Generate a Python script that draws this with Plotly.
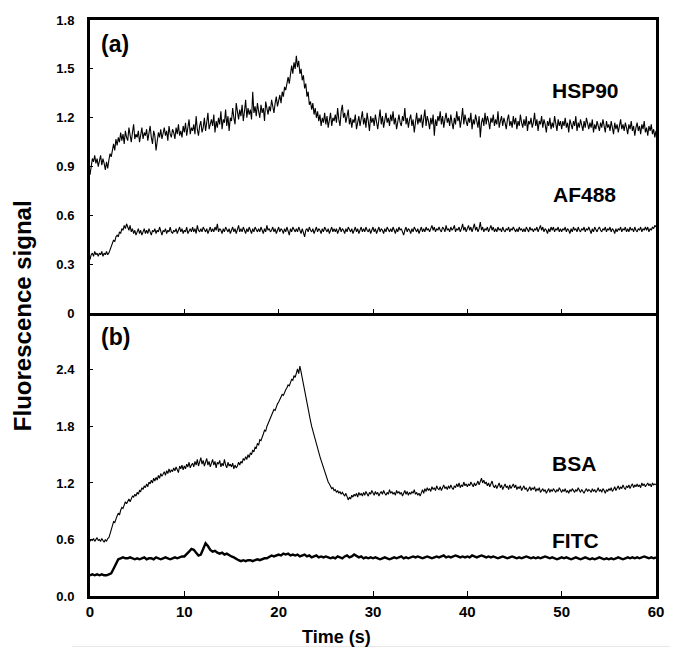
import plotly.graph_objects as go

# noisy traces sampled every 0.125 s (0..60 s), FITC every 0.25 s
FINE_STEP = 0.125
COARSE_STEP = 0.25

hsp90 = [
    0.85, 0.90, 0.95, 0.93, 0.97, 0.92, 0.95, 0.90,
    0.94, 0.97, 0.91, 0.95, 0.92, 0.88, 0.93, 0.89,
    0.94, 0.98, 0.96, 1.01, 1.04, 1.00, 1.07, 1.03,
    1.08, 1.05, 1.11, 1.06, 1.10, 1.04, 1.12, 1.08,
    1.06, 1.14, 1.09, 1.05, 1.11, 1.16, 1.07, 1.10,
    1.08, 1.12, 1.05, 1.10, 1.14, 1.07, 1.11, 1.09,
    1.13, 1.06, 1.10, 1.15, 1.08, 1.04, 1.12, 1.09,
    1.00, 1.06, 1.11, 1.08, 1.13, 1.07, 1.10, 1.14,
    1.09, 1.12, 1.06, 1.15, 1.10, 1.08, 1.13, 1.11,
    1.07, 1.14, 1.10, 1.16, 1.09, 1.12, 1.08, 1.15,
    1.11, 1.17, 1.09, 1.13, 1.19, 1.10, 1.14, 1.12,
    1.16, 1.10, 1.21, 1.13, 1.09, 1.15, 1.18, 1.11,
    1.14, 1.20, 1.12, 1.17, 1.23, 1.13, 1.16, 1.19,
    1.15, 1.22, 1.11, 1.18, 1.14, 1.20, 1.16, 1.24,
    1.13, 1.19, 1.17, 1.25, 1.15, 1.21, 1.12, 1.20,
    1.18, 1.26, 1.20, 1.16, 1.29, 1.22, 1.19, 1.25,
    1.21, 1.28, 1.18, 1.24, 1.31, 1.20, 1.26, 1.22,
    1.25, 1.19, 1.36, 1.23, 1.27, 1.21, 1.29, 1.24,
    1.20, 1.28, 1.23, 1.26, 1.18, 1.30, 1.25, 1.22,
    1.27, 1.24, 1.31, 1.26, 1.23, 1.29, 1.33, 1.27,
    1.30, 1.34, 1.29, 1.36, 1.33, 1.39, 1.37, 1.42,
    1.45, 1.41, 1.48, 1.52, 1.47, 1.54, 1.50, 1.58,
    1.51, 1.55, 1.47, 1.50, 1.43, 1.46, 1.38, 1.41,
    1.33, 1.36, 1.28, 1.30, 1.25, 1.29, 1.22, 1.26,
    1.20, 1.24, 1.18, 1.22, 1.15, 1.20, 1.17, 1.23,
    1.16, 1.21, 1.14, 1.19, 1.23, 1.15, 1.20, 1.18,
    1.22, 1.17, 1.26, 1.19, 1.15, 1.24, 1.28, 1.20,
    1.23, 1.17, 1.21, 1.25, 1.16, 1.20, 1.14, 1.19,
    1.17, 1.22, 1.13, 1.18, 1.21, 1.15, 1.19, 1.24,
    1.16, 1.20, 1.14, 1.23, 1.18, 1.12, 1.21, 1.17,
    1.20, 1.15, 1.22, 1.18, 1.13, 1.19, 1.25, 1.16,
    1.21, 1.14, 1.18, 1.23, 1.17, 1.20, 1.15, 1.22,
    1.18, 1.24, 1.16, 1.20, 1.13, 1.19, 1.22, 1.17,
    1.15, 1.21, 1.18, 1.26, 1.16, 1.20, 1.14, 1.19,
    1.22, 1.15, 1.19, 1.11, 1.18, 1.23, 1.16, 1.20,
    1.17, 1.22, 1.14, 1.19, 1.25, 1.15, 1.21, 1.18,
    1.13, 1.20, 1.16, 1.22, 1.09, 1.19, 1.15, 1.21,
    1.18, 1.24, 1.16, 1.21, 1.14, 1.19, 1.23, 1.17,
    1.20, 1.15, 1.22, 1.17, 1.13, 1.20, 1.16, 1.24,
    1.18, 1.21, 1.14, 1.19, 1.26, 1.16, 1.22, 1.18,
    1.15, 1.20, 1.17, 1.23, 1.13, 1.19, 1.16, 1.22,
    1.18, 1.14, 1.21, 1.08, 1.17, 1.20, 1.15, 1.23,
    1.16, 1.21, 1.18, 1.13, 1.20, 1.17, 1.22, 1.15,
    1.19, 1.16, 1.24, 1.14, 1.18, 1.21, 1.15, 1.20,
    1.17, 1.13, 1.19, 1.22, 1.15, 1.18, 1.14, 1.21,
    1.16, 1.20, 1.13, 1.18, 1.15, 1.22, 1.17, 1.14,
    1.19, 1.15, 1.21, 1.12, 1.18, 1.16, 1.20, 1.14,
    1.17, 1.23, 1.15, 1.19, 1.12, 1.18, 1.16, 1.21,
    1.14, 1.19, 1.16, 1.11, 1.18, 1.15, 1.20, 1.13,
    1.17, 1.14, 1.21, 1.16, 1.12, 1.19, 1.15, 1.18,
    1.13, 1.18, 1.15, 1.20, 1.14, 1.17, 1.11, 1.19,
    1.16, 1.13, 1.18, 1.15, 1.21, 1.12, 1.17, 1.14,
    1.19, 1.15, 1.12, 1.18, 1.14, 1.20, 1.16, 1.13,
    1.17, 1.14, 1.19, 1.11, 1.16, 1.13, 1.18, 1.15,
    1.12, 1.17, 1.14, 1.19, 1.15, 1.11, 1.18, 1.14,
    1.16, 1.12, 1.18, 1.14, 1.10, 1.17, 1.13, 1.16,
    1.11, 1.15, 1.19, 1.13, 1.16, 1.12, 1.17, 1.14,
    1.10, 1.16, 1.13, 1.18, 1.12, 1.15, 1.09, 1.14,
    1.17, 1.12, 1.15, 1.10, 1.16, 1.13, 1.18, 1.11,
    1.14, 1.09, 1.15, 1.12, 1.16, 1.10, 1.13, 1.08,
    1.12,
]

af488 = [
    0.33, 0.36, 0.37, 0.35, 0.38, 0.36, 0.37, 0.35,
    0.37, 0.36, 0.38, 0.35, 0.37, 0.36, 0.38, 0.36,
    0.37, 0.39, 0.41, 0.43, 0.45, 0.44, 0.47, 0.48,
    0.47, 0.50, 0.49, 0.52, 0.51, 0.54, 0.52, 0.55,
    0.53, 0.51, 0.54, 0.50, 0.52, 0.49, 0.51, 0.48,
    0.50, 0.52, 0.49, 0.51, 0.48, 0.50, 0.52, 0.49,
    0.51, 0.49, 0.52, 0.50, 0.48, 0.51, 0.50, 0.52,
    0.49, 0.51, 0.50, 0.53, 0.50, 0.48, 0.51, 0.50,
    0.52, 0.49, 0.51, 0.50, 0.53, 0.50, 0.49, 0.51,
    0.50, 0.52, 0.49, 0.51, 0.53, 0.50, 0.52, 0.49,
    0.51, 0.50, 0.53, 0.49, 0.51, 0.52, 0.50, 0.53,
    0.50, 0.52, 0.49, 0.54, 0.51, 0.50, 0.52, 0.50,
    0.53, 0.51, 0.50, 0.52, 0.49, 0.51, 0.53, 0.50,
    0.52, 0.50, 0.53, 0.51, 0.55, 0.50, 0.52, 0.51,
    0.49, 0.52, 0.50, 0.53, 0.51, 0.50, 0.52, 0.49,
    0.51, 0.53, 0.50, 0.52, 0.49, 0.51, 0.54, 0.50,
    0.52, 0.50, 0.53, 0.51, 0.49, 0.52, 0.50, 0.53,
    0.51, 0.49, 0.52, 0.50, 0.53, 0.51, 0.50, 0.52,
    0.50, 0.53, 0.51, 0.49, 0.52, 0.50, 0.54, 0.51,
    0.52, 0.50, 0.51, 0.53, 0.50, 0.52, 0.49, 0.51,
    0.53, 0.50, 0.52, 0.51, 0.49, 0.52, 0.50, 0.53,
    0.51, 0.48, 0.52, 0.50, 0.53, 0.51, 0.50, 0.52,
    0.50, 0.53, 0.51, 0.49, 0.52, 0.50, 0.47, 0.51,
    0.52, 0.50, 0.53, 0.51, 0.50, 0.52, 0.49, 0.51,
    0.53, 0.50, 0.52, 0.51, 0.49, 0.52, 0.50, 0.53,
    0.51, 0.50, 0.52, 0.49, 0.51, 0.53, 0.50, 0.52,
    0.50, 0.52, 0.49, 0.51, 0.53, 0.50, 0.52, 0.51,
    0.49, 0.52, 0.50, 0.53, 0.51, 0.50, 0.52, 0.49,
    0.51, 0.53, 0.50, 0.52, 0.49, 0.51, 0.53, 0.50,
    0.52, 0.50, 0.53, 0.51, 0.50, 0.52, 0.49, 0.51,
    0.53, 0.50, 0.52, 0.49, 0.51, 0.53, 0.50, 0.52,
    0.51, 0.49, 0.52, 0.50, 0.53, 0.51, 0.50, 0.52,
    0.50, 0.53, 0.51, 0.49, 0.52, 0.50, 0.53, 0.51,
    0.52, 0.50, 0.48, 0.51, 0.53, 0.50, 0.52, 0.51,
    0.49, 0.52, 0.50, 0.53, 0.51, 0.50, 0.52, 0.49,
    0.51, 0.53, 0.50, 0.52, 0.50, 0.53, 0.51, 0.52,
    0.50, 0.52, 0.54, 0.51, 0.53, 0.50, 0.52, 0.51,
    0.53, 0.51, 0.50, 0.53, 0.52, 0.50, 0.54, 0.51,
    0.52, 0.50, 0.53, 0.51, 0.52, 0.54, 0.50, 0.52,
    0.51, 0.53, 0.50, 0.52, 0.55, 0.51, 0.53, 0.50,
    0.52, 0.54, 0.51, 0.53, 0.50, 0.52, 0.55, 0.51,
    0.53, 0.50, 0.52, 0.56, 0.51, 0.53, 0.50, 0.52,
    0.51, 0.53, 0.50, 0.52, 0.54, 0.51, 0.53, 0.50,
    0.52, 0.50, 0.53, 0.51, 0.52, 0.50, 0.53, 0.51,
    0.50, 0.52, 0.51, 0.53, 0.50, 0.52, 0.51, 0.53,
    0.51, 0.50, 0.52, 0.50, 0.53, 0.51, 0.52, 0.50,
    0.52, 0.50, 0.53, 0.51, 0.50, 0.53, 0.51, 0.52,
    0.50, 0.52, 0.51, 0.53, 0.50, 0.52, 0.54, 0.51,
    0.53, 0.50, 0.52, 0.51, 0.49, 0.52, 0.50, 0.53,
    0.51, 0.53, 0.50, 0.52, 0.51, 0.53, 0.50, 0.52,
    0.50, 0.52, 0.51, 0.53, 0.50, 0.52, 0.51, 0.49,
    0.52, 0.50, 0.53, 0.51, 0.52, 0.50, 0.53, 0.51,
    0.50, 0.52, 0.51, 0.53, 0.50, 0.52, 0.51, 0.53,
    0.51, 0.49, 0.52, 0.50, 0.53, 0.51, 0.50, 0.52,
    0.53, 0.51, 0.50, 0.52, 0.51, 0.53, 0.50, 0.52,
    0.51, 0.53, 0.50, 0.52, 0.51, 0.49, 0.52, 0.50,
    0.52, 0.51, 0.53, 0.50, 0.52, 0.51, 0.53, 0.50,
    0.52, 0.50, 0.53, 0.51, 0.52, 0.50, 0.53, 0.51,
    0.50, 0.52, 0.51, 0.53, 0.50, 0.52, 0.51, 0.53,
    0.51, 0.53, 0.50, 0.52, 0.51, 0.53, 0.52, 0.54,
    0.53,
]

bsa = [
    0.58, 0.60, 0.59, 0.61, 0.58, 0.60, 0.62, 0.59,
    0.60, 0.58, 0.61, 0.59, 0.57, 0.60, 0.58, 0.61,
    0.62, 0.66, 0.70, 0.75, 0.79, 0.78, 0.83, 0.85,
    0.88, 0.86, 0.91, 0.94, 0.93, 0.97, 1.00, 0.98,
    1.01, 1.03, 1.00, 1.04, 1.06, 1.05, 1.08, 1.06,
    1.10, 1.08, 1.12, 1.11, 1.15, 1.13, 1.17, 1.15,
    1.19, 1.16, 1.21, 1.19, 1.23, 1.20, 1.25, 1.22,
    1.26, 1.23, 1.28, 1.25, 1.30, 1.27, 1.29, 1.32,
    1.28, 1.33, 1.30, 1.35, 1.31, 1.34, 1.32, 1.36,
    1.33, 1.37, 1.34, 1.31, 1.38, 1.35, 1.39, 1.34,
    1.38, 1.35, 1.40, 1.37, 1.42, 1.36, 1.39, 1.41,
    1.37, 1.43, 1.39, 1.45, 1.38, 1.42, 1.47, 1.40,
    1.44, 1.38, 1.42, 1.46, 1.39, 1.43, 1.37, 1.41,
    1.45, 1.39, 1.43, 1.36, 1.42, 1.40, 1.44, 1.37,
    1.41, 1.38, 1.45, 1.39, 1.36, 1.42, 1.38, 1.40,
    1.37, 1.41, 1.35, 1.39, 1.36, 1.38, 1.42, 1.39,
    1.43, 1.41, 1.46, 1.44, 1.48, 1.45, 1.50, 1.47,
    1.52, 1.50, 1.55, 1.53, 1.58, 1.57, 1.62, 1.60,
    1.66, 1.65, 1.70, 1.72, 1.76, 1.75, 1.80, 1.83,
    1.86, 1.89, 1.92, 1.94, 1.98, 1.97, 2.01, 2.04,
    2.06, 2.09, 2.11, 2.14, 2.13, 2.17, 2.19, 2.21,
    2.24, 2.23, 2.28, 2.30, 2.29, 2.34, 2.32, 2.37,
    2.41, 2.36, 2.44, 2.38, 2.31, 2.25, 2.20, 2.14,
    2.07, 2.00, 1.93, 1.86, 1.80, 1.75, 1.70, 1.66,
    1.62, 1.57, 1.52, 1.48, 1.44, 1.40, 1.36, 1.31,
    1.27, 1.24, 1.21, 1.19, 1.16, 1.14, 1.15, 1.12,
    1.13, 1.10, 1.12, 1.09, 1.11, 1.08, 1.10, 1.07,
    1.06, 1.09, 1.04, 1.02, 1.05, 1.03, 1.07, 1.05,
    1.08, 1.06, 1.09, 1.05, 1.10, 1.07, 1.09, 1.06,
    1.10, 1.07, 1.11, 1.08, 1.06, 1.10, 1.08, 1.12,
    1.09, 1.07, 1.11, 1.08, 1.10, 1.06, 1.09, 1.11,
    1.08, 1.12, 1.09, 1.07, 1.10, 1.08, 1.13, 1.09,
    1.11, 1.08, 1.10, 1.07, 1.12, 1.09, 1.11, 1.08,
    1.10, 1.06, 1.09, 1.12, 1.08, 1.11, 1.07, 1.10,
    1.08, 1.11, 1.09, 1.13, 1.08, 1.10, 1.07, 1.09,
    1.06, 1.10, 1.13, 1.09, 1.14, 1.11, 1.15, 1.12,
    1.14, 1.11, 1.16, 1.13, 1.15, 1.12, 1.17, 1.14,
    1.13, 1.16, 1.12, 1.15, 1.18, 1.14, 1.16, 1.13,
    1.17, 1.14, 1.18, 1.15, 1.13, 1.17, 1.15, 1.19,
    1.16, 1.20, 1.15, 1.18, 1.16, 1.21, 1.17, 1.19,
    1.16, 1.19, 1.17, 1.21, 1.18, 1.16, 1.20, 1.17,
    1.19, 1.22, 1.18, 1.21, 1.25, 1.20, 1.23, 1.19,
    1.21, 1.17, 1.20, 1.16, 1.19, 1.22, 1.17, 1.15,
    1.18, 1.14, 1.17, 1.20, 1.15, 1.18, 1.13, 1.16,
    1.19, 1.15, 1.17, 1.13, 1.18, 1.14, 1.16, 1.19,
    1.15, 1.18, 1.13, 1.16, 1.14, 1.17, 1.12, 1.15,
    1.17, 1.13, 1.15, 1.11, 1.14, 1.16, 1.12, 1.15,
    1.13, 1.16, 1.11, 1.14, 1.12, 1.15, 1.10, 1.13,
    1.14, 1.11, 1.13, 1.09, 1.12, 1.14, 1.10, 1.13,
    1.11, 1.14, 1.12, 1.10, 1.13, 1.11, 1.15, 1.12,
    1.10, 1.13, 1.11, 1.14, 1.10, 1.12, 1.09, 1.13,
    1.11, 1.14, 1.12, 1.10, 1.13, 1.11, 1.15, 1.12,
    1.10, 1.13, 1.11, 1.09, 1.12, 1.14, 1.11, 1.13,
    1.12, 1.10, 1.14, 1.11, 1.13, 1.10, 1.12, 1.15,
    1.11, 1.13, 1.10, 1.14, 1.12, 1.09, 1.13, 1.11,
    1.14, 1.12, 1.15, 1.11, 1.13, 1.16, 1.12, 1.15,
    1.17, 1.13, 1.16, 1.14, 1.18, 1.15, 1.13, 1.17,
    1.15, 1.18, 1.14, 1.17, 1.19, 1.15, 1.18, 1.16,
    1.19, 1.16, 1.18, 1.15, 1.20, 1.17, 1.19, 1.16,
    1.18, 1.20, 1.17, 1.19, 1.16, 1.20, 1.18, 1.19,
    1.18,
]

fitc = [
    0.22, 0.23, 0.22, 0.23, 0.22, 0.23, 0.22, 0.22, 0.23, 0.24, 0.29, 0.35, 0.39, 0.40, 0.41, 0.40, 0.40, 0.41, 0.40, 0.39,
    0.40, 0.39, 0.40, 0.41, 0.39, 0.40, 0.40, 0.39, 0.41, 0.40, 0.39, 0.40, 0.41, 0.40, 0.39, 0.40, 0.41, 0.40, 0.41, 0.42,
    0.42, 0.44, 0.47, 0.50, 0.49, 0.46, 0.43, 0.44, 0.50, 0.56, 0.53, 0.49, 0.47, 0.48, 0.46, 0.45, 0.46, 0.44, 0.45, 0.43,
    0.42, 0.41, 0.39, 0.38, 0.37, 0.38, 0.37, 0.38, 0.38, 0.37, 0.38, 0.39, 0.38, 0.39, 0.40, 0.40, 0.42, 0.43, 0.42, 0.43,
    0.44, 0.43, 0.45, 0.44, 0.45, 0.43, 0.44, 0.43, 0.44, 0.42, 0.43, 0.44, 0.42, 0.43, 0.41, 0.42, 0.43, 0.41, 0.42, 0.41,
    0.42, 0.41, 0.40, 0.41, 0.40, 0.42, 0.41, 0.40, 0.42, 0.43, 0.41, 0.42, 0.44, 0.42, 0.41, 0.42, 0.40, 0.41, 0.40, 0.41,
    0.40, 0.41, 0.40, 0.39, 0.40, 0.41, 0.40, 0.39, 0.40, 0.41, 0.40, 0.41, 0.42, 0.40, 0.41, 0.40, 0.41, 0.42, 0.41, 0.42,
    0.41, 0.40, 0.41, 0.42, 0.41, 0.40, 0.41, 0.42, 0.41, 0.42, 0.43, 0.41, 0.42, 0.41, 0.42, 0.43, 0.42, 0.41, 0.42, 0.41,
    0.42, 0.41, 0.43, 0.42, 0.41, 0.42, 0.43, 0.42, 0.41, 0.42, 0.41, 0.42, 0.41, 0.40, 0.41, 0.42, 0.41, 0.40, 0.41, 0.42,
    0.41, 0.40, 0.41, 0.40, 0.41, 0.42, 0.41, 0.40, 0.41, 0.40, 0.41, 0.40, 0.41, 0.42, 0.41, 0.40, 0.41, 0.40, 0.39, 0.40,
    0.41, 0.40, 0.41, 0.40, 0.39, 0.40, 0.41, 0.40, 0.39, 0.40, 0.41, 0.40, 0.39, 0.40, 0.39, 0.40, 0.41, 0.40, 0.39, 0.40,
    0.39, 0.40, 0.39, 0.40, 0.41, 0.40, 0.39, 0.40, 0.41, 0.40, 0.41, 0.40, 0.41, 0.40, 0.41, 0.42, 0.41, 0.40, 0.41, 0.40,
    0.41,
]

x_ticks = [0, 10, 20, 30, 40, 50, 60]
top_ticks = [0, 0.3, 0.6, 0.9, 1.2, 1.5, 1.8]
top_tick_text = ['0', '0.3', '0.6', '0.9', '1.2', '1.5', '1.8']
bot_ticks = [0.0, 0.6, 1.2, 1.8, 2.4]
bot_tick_text = ['0.0', '0.6', '1.2', '1.8', '2.4']


def times(series, step):
    return [i * step for i in range(len(series))]


FONT = 'Liberation Sans, Arial, sans-serif'
SPLIT = 0.4906

fig = go.Figure()

# panel (a)
fig.add_trace(go.Scatter(x=times(hsp90, FINE_STEP), y=hsp90, mode='lines',
                         line=dict(color='black', width=1.1), xaxis='x2', yaxis='y2'))
fig.add_trace(go.Scatter(x=times(af488, FINE_STEP), y=af488, mode='lines',
                         line=dict(color='black', width=1.1), xaxis='x2', yaxis='y2'))
# panel (b)
fig.add_trace(go.Scatter(x=times(bsa, FINE_STEP), y=bsa, mode='lines',
                         line=dict(color='black', width=1.1), xaxis='x', yaxis='y'))
fig.add_trace(go.Scatter(x=times(fitc, COARSE_STEP), y=fitc, mode='lines',
                         line=dict(color='black', width=2.4), xaxis='x', yaxis='y'))

axis_common = dict(showgrid=False, zeroline=False, showline=True, linecolor='black',
                   ticks='inside', tickcolor='black', tickwidth=1.2)

# page body adds an 8px offset, so the figure is 8px smaller than the window
fig.update_layout(
    width=671, height=648,
    margin=dict(l=82, r=23, t=5, b=60),
    plot_bgcolor='white', paper_bgcolor='white',
    showlegend=False,
    font=dict(family=FONT, color='black'),
    xaxis=dict(axis_common, domain=[0, 1], range=[0, 60], anchor='y',
               tickvals=x_ticks, ticklen=5, linewidth=3, mirror=False,
               ticklabelstandoff=0,
               tickfont=dict(family=FONT, size=15, weight='bold')),
    xaxis2=dict(axis_common, domain=[0, 1], range=[0, 60], anchor='y2', matches='x',
                tickvals=x_ticks[1:-1], showticklabels=False, ticklen=5,
                linewidth=2.5, mirror=True),
    yaxis=dict(axis_common, domain=[0, SPLIT], range=[0, 3.0], anchor='x',
               tickvals=bot_ticks, ticktext=bot_tick_text, ticklen=3,
               linewidth=3, mirror=True, ticklabelstandoff=10,
               tickfont=dict(family=FONT, size=13, weight='bold')),
    yaxis2=dict(axis_common, domain=[SPLIT, 1], range=[0, 1.8], anchor='x2',
                tickvals=top_ticks, ticktext=top_tick_text, ticklen=3,
                linewidth=3, mirror=True, ticklabelstandoff=10,
                tickfont=dict(family=FONT, size=13, weight='bold')),
)

labels = [
    ('(a)', 0.016, 0.959, 23),
    ('(b)', 0.016, 0.450, 23),
    ('HSP90', 0.875, 0.877, 21),
    ('AF488', 0.873, 0.697, 21),
    ('BSA', 0.855, 0.230, 21),
    ('FITC', 0.857, 0.097, 21),
]
for text, x, y, size in labels:
    fig.add_annotation(text=text, xref='paper', yref='paper', x=x, y=y,
                       xanchor='left' if text.startswith('(') else 'center', yanchor='middle',
                       showarrow=False, font=dict(family=FONT, size=size, weight='bold'))

fig.add_annotation(text='Fluorescence signal', xref='paper', yref='paper',
                   x=-0.12, y=0.486, textangle=-90, showarrow=False,
                   xanchor='center', yanchor='middle',
                   font=dict(family=FONT, size=24, weight='bold'))
fig.add_annotation(text='Time (s)', xref='paper', yref='paper',
                   x=0.436, y=-0.071, showarrow=False,
                   xanchor='center', yanchor='middle',
                   font=dict(family=FONT, size=18, weight='bold'))

# faint rule under the figure
fig.add_shape(type='line', xref='paper', yref='paper', x0=-0.032, x1=1.025,
              y0=-0.0875, y1=-0.0875, line=dict(color='#e6e6e6', width=1))

fig.write_html("out.html")
